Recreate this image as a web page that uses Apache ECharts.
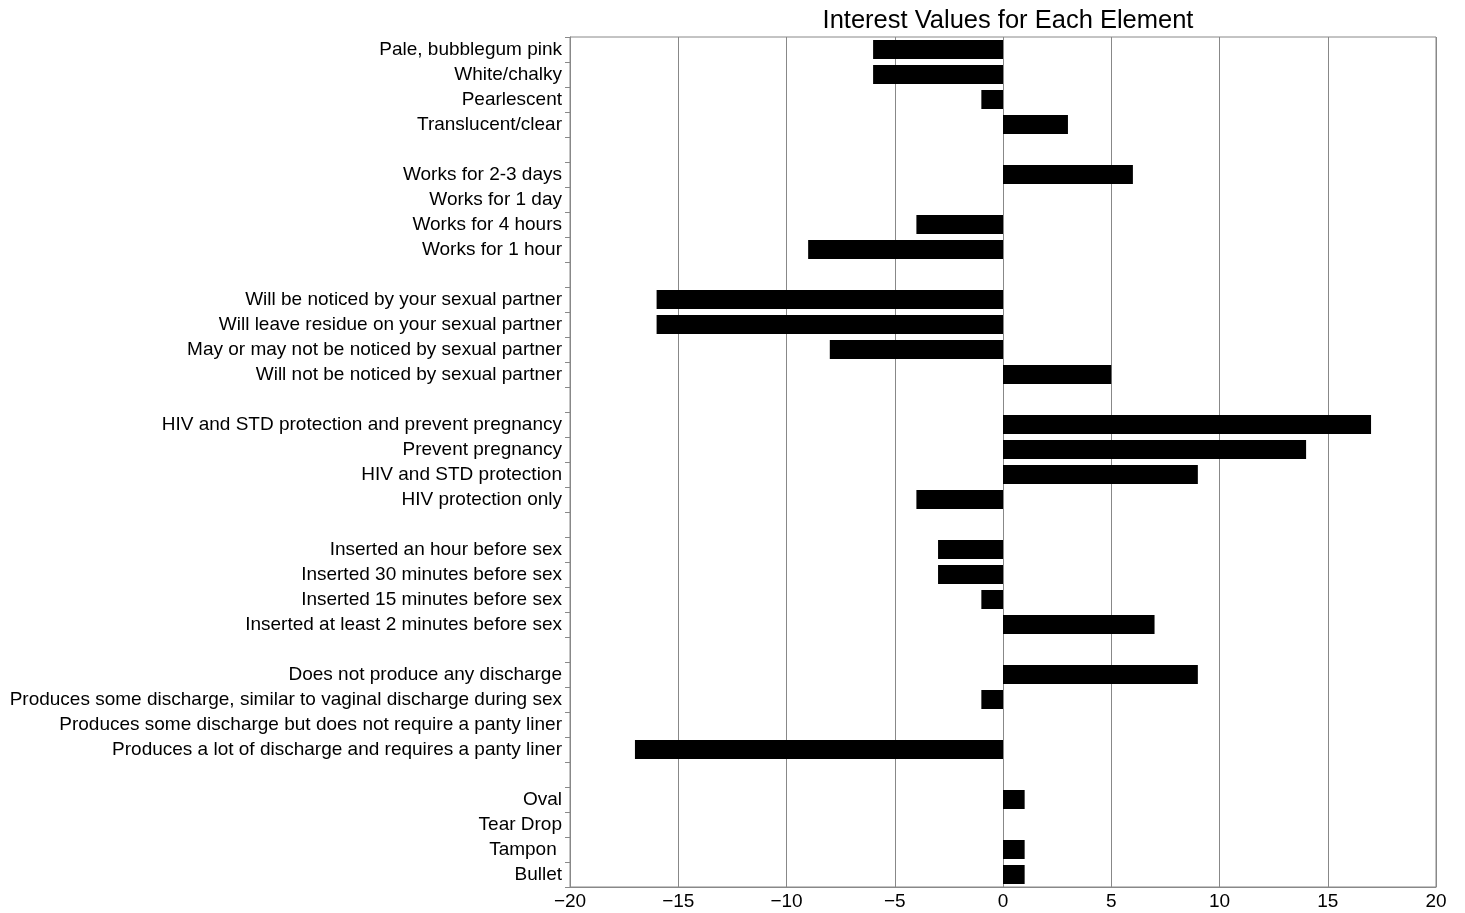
<!DOCTYPE html>
<html>
<head>
<meta charset="utf-8">
<script src="https://cdn.jsdelivr.net/npm/echarts@6/dist/echarts.min.js"></script>
<style>
html,body{margin:0;padding:0;background:#fff;}
#chart{width:1465px;height:913px;}
</style>
</head>
<body>
<div id="chart"></div>
<script>
const title = 'Interest Values for Each Element';
const categories = [
  'Pale, bubblegum pink','White/chalky','Pearlescent','Translucent/clear','',
  'Works for 2-3 days','Works for 1 day','Works for 4 hours','Works for 1 hour','',
  'Will be noticed by your sexual partner','Will leave residue on your sexual partner','May or may not be noticed by sexual partner','Will not be noticed by sexual partner','',
  'HIV and STD protection and prevent pregnancy','Prevent pregnancy','HIV and STD protection','HIV protection only','',
  'Inserted an hour before sex','Inserted 30 minutes before sex','Inserted 15 minutes before sex','Inserted at least 2 minutes before sex','',
  'Does not produce any discharge','Produces some discharge, similar to vaginal discharge during sex','Produces some discharge but does not require a panty liner','Produces a lot of discharge and requires a panty liner','',
  'Oval','Tear Drop','Tampon ','Bullet'
];
const values = [
  -6, -6, -1, 3, null,
  6, 0, -4, -9, null,
  -16, -16, -8, 5, null,
  17, 14, 9, -4, null,
  -3, -3, -1, 7, null,
  9, -1, 0, -17, null,
  1, 0, 1, 1
];
const xMin = -20, xMax = 20, xStep = 5;

const chart = echarts.init(document.getElementById('chart'));
const font = 'Liberation Sans, Arial, Helvetica, sans-serif';
chart.setOption({
  animation: false,
  backgroundColor: '#fff',
  title: {
    text: title,
    left: 1003, top: 3, textAlign: 'center',
    textStyle: {fontFamily: font, fontSize: 25.5, fontWeight: 'normal', color: '#000'}
  },
  grid: {left: 570, right: 29, top: 37, bottom: 26, show: true, borderColor: '#888', borderWidth: 1, containLabel: false},
  xAxis: {
    type: 'value', min: xMin, max: xMax, interval: xStep,
    axisLine: {show: true, lineStyle: {color: '#888'}},
    axisTick: {show: false},
    splitLine: {show: true, lineStyle: {color: '#888', width: 1}},
    axisLabel: {
      fontFamily: font, fontSize: 19, color: '#000', margin: 5,
      formatter: v => String(v).replace('-', '\u2212')
    }
  },
  yAxis: {
    type: 'category', data: categories, inverse: true,
    axisLine: {show: true, onZero: false, lineStyle: {color: '#888'}},
    axisTick: {show: true, length: 5, lineStyle: {color: '#888'}},
    splitLine: {show: false},
    axisLabel: {fontFamily: font, fontSize: 19, color: '#000', margin: 8, interval: 0, padding: [4, 0, 0, 0]}
  },
  series: [{
    type: 'bar', data: values, barWidth: 19,
    itemStyle: {color: '#000'},
    silent: true
  }]
});
</script>
</body>
</html>
